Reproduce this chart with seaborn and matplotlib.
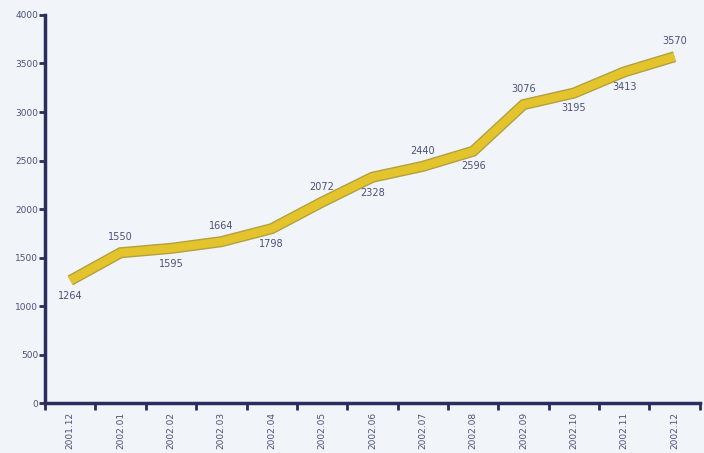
import seaborn as sns
import matplotlib.pyplot as plt
import matplotlib.patheffects as pe
import pandas as pd
import numpy as np

# Monthly values
months = ["2001.12", "2002.01", "2002.02", "2002.03", "2002.04", "2002.05", "2002.06",
          "2002.07", "2002.08", "2002.09", "2002.10", "2002.11", "2002.12"]
values = [1264, 1550, 1595, 1664, 1798, 2072, 2328, 2440, 2596, 3076, 3195, 3413, 3570]

# which side of the line each value label sits on (1 = above, -1 = below)
label_side = [-1, 1, -1, 1, -1, 1, -1, 1, -1, 1, -1, -1, 1]

data = pd.DataFrame({"Month": months, "Value": values})

sns.set_style("white")
bg = "#f1f5f9"
navy = "#2b2d5c"
text_col = "#4d5078"

fig = plt.figure(figsize=(7.04, 4.53), dpi=100, facecolor=bg)
ax = fig.add_axes([0.064, 0.11, 0.93, 0.857])
ax.set_facecolor(bg)

sns.lineplot(data=data, x="Month", y="Value", color="#e3c42c", linewidth=6, ax=ax,
             sort=False)
line = ax.lines[0]
line.set_solid_joinstyle("miter")
line.set_solid_capstyle("butt")
line.set_path_effects([pe.Stroke(linewidth=8, foreground="#b3a040", capstyle="butt"),
                       pe.Normal()])

for i, (v, s) in enumerate(zip(values, label_side)):
    ax.annotate(str(v), (i, v), xytext=(0, 11 * s), textcoords="offset points",
                ha="center", va="center", fontsize=7, color=text_col)

ax.set_xlim(-0.5, len(months) - 0.5)
ax.set_ylim(0, 4000)
ax.set_yticks(np.arange(0, 4001, 500))
ax.set_yticklabels([str(t) for t in range(0, 4001, 500)], fontsize=6.5, color=text_col)

ax.set_xticks(range(len(months)))
ax.set_xticklabels(months, rotation=90, fontsize=6.5, color=text_col)
ax.set_xticks(np.arange(-0.5, len(months), 1), minor=True)
ax.tick_params(axis="x", which="major", bottom=True, length=0, pad=6)
ax.tick_params(axis="x", which="minor", bottom=True, length=5, width=2, color=navy,
               direction="out")
ax.tick_params(axis="y", left=True, length=4, width=2, color=navy, direction="out", pad=1)

for side in ["top", "right"]:
    ax.spines[side].set_visible(False)
for side in ["left", "bottom"]:
    ax.spines[side].set_color(navy)
    ax.spines[side].set_linewidth(2.5)

ax.set_xlabel("")
ax.set_ylabel("")

plt.savefig("out.png", dpi=100, facecolor=bg)
plt.close()
